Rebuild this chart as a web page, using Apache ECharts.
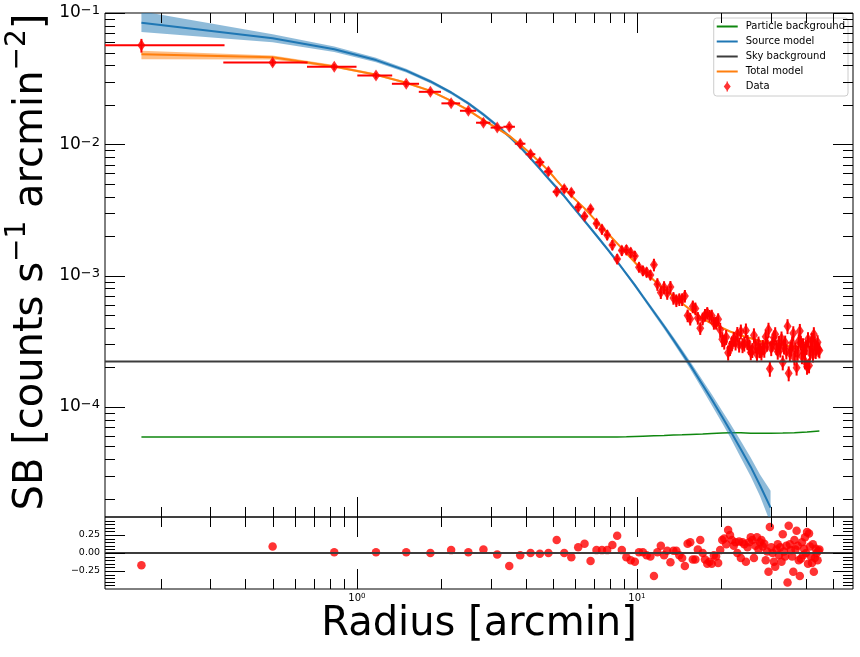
<!DOCTYPE html>
<html>
<head>
<meta charset="utf-8">
<title>Surface brightness profile</title>
<script src="https://cdn.jsdelivr.net/npm/echarts@6.0.0/dist/echarts.min.js"></script>
<style>
html,body{margin:0;padding:0;background:#ffffff;}
#chart{width:860px;height:657px;}
</style>
</head>
<body>
<div id="chart"></div>
<script>
// ---------------- data ----------------
const radius = [
  0.17, 0.50, 0.83, 1.17, 1.50, 1.83, 2.17, 2.50, 2.83, 3.17,
  3.50, 3.83, 4.17, 4.50, 4.83, 5.17, 5.50, 5.83, 6.17, 6.50,
  6.83, 7.17, 7.50, 7.83, 8.17, 8.50, 8.83, 9.17, 9.50, 9.83,
  10.17, 10.50, 10.83, 11.17, 11.50, 11.83, 12.17, 12.50, 12.83, 13.17,
  13.50, 13.83, 14.17, 14.50, 14.83, 15.17, 15.50, 15.83, 16.17, 16.50,
  16.83, 17.17, 17.50, 17.83, 18.17, 18.50, 18.83, 19.17, 19.50, 19.83,
  20.17, 20.50, 20.83, 21.17, 21.50, 21.83, 22.17, 22.50, 22.83, 23.17,
  23.50, 23.83, 24.17, 24.50, 24.83, 25.17, 25.50, 25.83, 26.17, 26.50,
  26.83, 27.17, 27.50, 27.83, 28.17, 28.50, 28.83, 29.17, 29.50, 29.83,
  30.17, 30.50, 30.83, 31.17, 31.50, 31.83, 32.17, 32.50, 32.83, 33.17,
  33.50, 33.83, 34.17, 34.50, 34.83, 35.17, 35.50, 35.83, 36.17, 36.50,
  36.83, 37.17, 37.50, 37.83, 38.17, 38.50, 38.83, 39.17, 39.50, 39.83,
  40.17, 40.50, 40.83, 41.17, 41.50, 41.83, 42.17, 42.50, 42.83, 43.17,
  43.50, 43.83, 44.17, 44.50, 44.83
];
const radiusHalfWidth = 0.1667;
const surfaceBrightness = [
  0.0567, 0.0419, 0.0389, 0.0334, 0.0289, 0.0251, 0.0205, 0.0180, 0.0146, 0.0134,
  0.0136, 0.0101, 0.0084, 0.0073, 0.0062, 0.00435, 0.00457, 0.0043, 0.00332, 0.00283,
  0.00321, 0.00249, 0.00225, 0.00204, 0.00171, 0.00134, 0.00155, 0.00157, 0.0015, 0.00141,
  0.00116, 0.00109, 0.00106, 0.00101, 0.00121, 0.00086, 0.000745, 0.000816, 0.000735, 0.000819,
  0.000674, 0.000647, 0.000659, 0.000659, 0.0007, 0.000496, 0.000468, 0.000581, 0.000561, 0.000475,
  0.000397, 0.00047, 0.000501, 0.000518, 0.000493, 0.000495, 0.000435, 0.000436, 0.000465, 0.000387,
  0.000328, 0.000314, 0.000341, 0.000259, 0.000281, 0.000304, 0.00033, 0.000309, 0.000359, 0.000298,
  0.000375, 0.000295, 0.000303, 0.000382, 0.000312, 0.000286, 0.00026, 0.000271, 0.000351, 0.000293,
  0.000252, 0.000304, 0.00027, 0.000259, 0.000286, 0.000272, 0.000342, 0.000303, 0.000387, 0.000195,
  0.00028, 0.000303, 0.000338, 0.000358, 0.000285, 0.000263, 0.000307, 0.000273, 0.000332, 0.000218,
  0.000288, 0.000309, 0.000264, 0.000412, 0.00018, 0.000256, 0.000278, 0.000305, 0.000364, 0.000237,
  0.000274, 0.000199, 0.000258, 0.000316, 0.000379, 0.000309, 0.000243, 0.000295, 0.000268, 0.000222,
  0.000285, 0.000202, 0.000328, 0.000207, 0.000258, 0.000298, 0.000324, 0.00025, 0.000358, 0.000303,
  0.000266, 0.000283, 0.000311, 0.000275, 0.000269
];
const surfaceBrightnessErrFrac = [
  0.12, 0.06, 0.05, 0.05, 0.05, 0.05, 0.05, 0.05, 0.05, 0.05,
  0.05, 0.07, 0.07, 0.07, 0.07, 0.07, 0.07, 0.07, 0.07, 0.07,
  0.07, 0.09, 0.09, 0.09, 0.09, 0.09, 0.09, 0.09, 0.09, 0.09,
  0.09, 0.09, 0.09, 0.09, 0.11, 0.11, 0.11, 0.11, 0.11, 0.11,
  0.11, 0.11, 0.11, 0.11, 0.11, 0.11, 0.11, 0.11, 0.11, 0.11,
  0.11, 0.11, 0.11, 0.11, 0.11, 0.11, 0.11, 0.11, 0.11, 0.13,
  0.13, 0.13, 0.13, 0.13, 0.13, 0.13, 0.13, 0.13, 0.13, 0.13,
  0.13, 0.13, 0.13, 0.13, 0.13, 0.13, 0.13, 0.13, 0.13, 0.13,
  0.13, 0.13, 0.13, 0.13, 0.13, 0.13, 0.13, 0.13, 0.13, 0.13,
  0.13, 0.13, 0.13, 0.13, 0.13, 0.13, 0.13, 0.13, 0.13, 0.13,
  0.13, 0.13, 0.13, 0.13, 0.13, 0.13, 0.13, 0.13, 0.13, 0.13,
  0.13, 0.13, 0.13, 0.13, 0.13, 0.13, 0.13, 0.13, 0.13, 0.13,
  0.13, 0.13, 0.13, 0.13, 0.13, 0.13, 0.13, 0.13, 0.13, 0.13,
  0.13, 0.13, 0.13, 0.13, 0.13
];
const residuals = [
  -0.17, 0.09, 0.01, 0.01, 0.01, 0.0, 0.04, 0.01, 0.05, -0.02,
  -0.18, -0.03, 0.0, -0.01, 0.0, 0.18, 0.0, -0.06, 0.08, 0.13,
  -0.11, 0.04, 0.04, 0.04, 0.11, 0.24, 0.04, -0.06, -0.10, -0.12,
  0.01, 0.01, -0.03, -0.05, -0.32, 0.01, 0.10, -0.03, 0.03, -0.13,
  0.03, 0.03, -0.03, -0.07, -0.18, 0.13, 0.15, -0.09, -0.09, 0.05,
  0.18, 0.0, -0.09, -0.15, -0.12, -0.15, -0.03, -0.05, -0.14, 0.04,
  0.18, 0.20, 0.12, 0.32, 0.25, 0.18, 0.10, 0.15, 0.0, 0.16,
  -0.07, 0.15, 0.12, -0.12, 0.08, 0.15, 0.22, 0.18, -0.07, 0.10,
  0.22, 0.05, 0.15, 0.18, 0.09, 0.13, -0.10, 0.02, -0.26, 0.36,
  0.08, 0.0, -0.12, -0.19, 0.05, 0.12, -0.03, 0.08, -0.12, 0.26,
  0.02, -0.05, 0.10, -0.41, 0.38, 0.12, 0.04, -0.05, -0.26, 0.18,
  0.05, 0.31, 0.10, -0.10, -0.32, -0.08, 0.15, -0.03, 0.06, 0.22,
  0.0, 0.29, -0.15, 0.27, 0.09, -0.05, -0.14, 0.12, -0.26, -0.07,
  0.06, 0.0, -0.10, 0.03, 0.05
];

const modelRadius = [
  0.17, 0.5, 0.83, 1.17, 1.5, 1.83, 2.17, 2.5, 2.83, 3.17,
  3.5, 3.83, 4.17, 4.5, 4.83, 5.17, 5.5, 5.83, 6.17, 6.5,
  7.17, 7.83, 8.5, 9.17, 9.83, 10.5, 11.5, 12.5, 13.5, 14.5,
  15.5, 17.17, 18.5, 20.17, 21.5, 23.5, 25.5, 27.5, 30, 33.17,
  36.5, 40.5, 44.83
];
const totalModel = [
  0.0485, 0.046, 0.0392, 0.0339, 0.0294, 0.0255, 0.0214, 0.0182, 0.0153, 0.0132,
  0.0116, 0.0099, 0.0085, 0.0073, 0.0063, 0.0053, 0.00458, 0.00406, 0.00361, 0.00325,
  0.00259, 0.00212, 0.00176, 0.00148, 0.00126, 0.0011, 0.00092, 0.000792, 0.000695, 0.000616,
  0.00055, 0.00047, 0.00043, 0.0004, 0.000375, 0.00035, 0.000333, 0.000318, 0.000305, 0.000295,
  0.000289, 0.000285, 0.000283
];
const totalModelLo = [
  0.0444, 0.0443, 0.0382, 0.0332, 0.0288, 0.0250, 0.0210, 0.0178, 0.0150, 0.01294,
  0.01137, 0.0097, 0.00837, 0.00719, 0.0062, 0.00522, 0.00451, 0.004, 0.00356, 0.0032,
  0.00255, 0.00209, 0.00173, 0.00146, 0.00124, 0.00108, 0.000906, 0.00078, 0.000685, 0.000607,
  0.000542, 0.000463, 0.000424, 0.000394, 0.00037, 0.000345, 0.000328, 0.000313, 0.0003, 0.00029,
  0.000284, 0.00028, 0.000278
];
const totalModelHi = [
  0.0516, 0.0475, 0.0402, 0.0346, 0.0300, 0.0260, 0.0218, 0.0186, 0.0156, 0.01346,
  0.01183, 0.0101, 0.00863, 0.00741, 0.0064, 0.00538, 0.00465, 0.00412, 0.00366, 0.0033,
  0.00263, 0.00215, 0.00179, 0.0015, 0.00128, 0.00112, 0.000934, 0.000804, 0.000705, 0.000625,
  0.000558, 0.000477, 0.000436, 0.000406, 0.00038, 0.000355, 0.000338, 0.000323, 0.00031, 0.0003,
  0.000294, 0.00029, 0.000288
];
const sourceModel = [
  0.0844, 0.0641, 0.053, 0.0438, 0.0364, 0.0301, 0.0248, 0.0205, 0.01687, 0.01383,
  0.01145, 0.00953, 0.00782, 0.00652, 0.00548, 0.00467, 0.00403, 0.00346, 0.00299, 0.00261,
  0.00202, 0.0016, 0.00128, 0.00103, 0.000845, 0.000693, 0.000528, 0.000411, 0.000324, 0.000258,
  0.000208, 0.000147, 0.000114, 0.0000836, 0.0000664, 0.0000476, 0.0000349, 0.0000253, 0.0000171
];
const sourceModelLo = [
  0.0716, 0.060, 0.0505, 0.0422, 0.0353, 0.0292, 0.0241, 0.0199, 0.01637, 0.0134,
  0.0111, 0.00925, 0.00759, 0.00632, 0.00532, 0.00453, 0.00391, 0.00336, 0.0029, 0.00253,
  0.00196, 0.00155, 0.00124, 0.001, 0.000815, 0.000668, 0.000506, 0.000392, 0.000307, 0.000243,
  0.000194, 0.000135, 0.000103, 0.000075, 0.000059, 0.000041, 0.0000295, 0.000021, 0.000013
];
const sourceModelHi = [
  0.103, 0.069, 0.0555, 0.0456, 0.0376, 0.031, 0.0255, 0.0211, 0.01737, 0.01426,
  0.0118, 0.00982, 0.00806, 0.00672, 0.00564, 0.00481, 0.00415, 0.00356, 0.00308, 0.00269,
  0.00208, 0.00165, 0.00132, 0.00106, 0.000875, 0.000718, 0.00055, 0.00043, 0.000341, 0.000273,
  0.000222, 0.000159, 0.000125, 0.000093, 0.000075, 0.000055, 0.000041, 0.0000305, 0.000023
];
const particleBackground = [
  5.9e-5, 5.9e-5, 5.9e-5, 5.9e-5, 5.9e-5, 5.9e-5, 5.9e-5, 5.9e-5, 5.9e-5, 5.9e-5,
  5.9e-5, 5.9e-5, 5.9e-5, 5.9e-5, 5.9e-5, 5.9e-5, 5.9e-5, 5.9e-5, 5.9e-5, 5.9e-5,
  5.9e-5, 5.9e-5, 5.9e-5, 5.92e-5, 5.95e-5, 5.98e-5, 6.02e-5, 6.05e-5, 6.1e-5, 6.13e-5,
  6.17e-5, 6.22e-5, 6.27e-5, 6.32e-5, 6.35e-5, 6.35e-5, 6.3e-5, 6.3e-5, 6.3e-5, 6.32e-5,
  6.36e-5, 6.45e-5, 6.55e-5
];
const skyBackground = 2.22e-4;

// axis ranges and ticks
const xRange = [0.126, 59.1];
const yRange = [1.45e-5, 0.1];
const resRange = [-0.5, 0.5];
const xMajorTicks = [1, 10];
const xMinorTicks = [0.2, 0.3, 0.4, 0.5, 0.6, 0.7, 0.8, 0.9, 2, 3, 4, 5, 6, 7, 8, 9, 20, 30, 40, 50];
const yMajorTicks = [1e-4, 1e-3, 1e-2, 1e-1];
const yMinorTicks = [2e-5, 3e-5, 4e-5, 5e-5, 6e-5, 7e-5, 8e-5, 9e-5,
  2e-4, 3e-4, 4e-4, 5e-4, 6e-4, 7e-4, 8e-4, 9e-4,
  2e-3, 3e-3, 4e-3, 5e-3, 6e-3, 7e-3, 8e-3, 9e-3,
  2e-2, 3e-2, 4e-2, 5e-2, 6e-2, 7e-2, 8e-2, 9e-2];
const resMajorTicks = [-0.25, 0, 0.25];
const resMinorTicks = [-0.45, -0.4, -0.35, -0.3, -0.2, -0.15, -0.1, -0.05, 0.05, 0.1, 0.15, 0.2, 0.3, 0.35, 0.4, 0.45];

// ---------------- styling ----------------
const FONT = 'DejaVu Sans';
const C_BLUE = '#1f77b4', C_ORANGE = '#ff7f0e', C_GREEN = '#0f870f', C_SKY = '#3c3c3c', C_RED = '#ff0000';
const MAJOR_LEN = 20, MINOR_LEN = 10;

const pairs = (xs, ys) => ys.map((y, i) => [xs[i], y]);
const minus = s => String(s).replace('-', '\u2212');

function powerLabel(v) {
  const e = Math.log10(v), n = Math.round(e);
  if (Math.abs(e - n) > 1e-6) return '';
  return '{b|10}{s|' + minus(n) + '}';
}

function gridClip(cs) {
  return { type: 'rect', shape: { x: cs.x, y: cs.y, width: cs.width, height: cs.height } };
}

function xTickSeries(idx, values, len, yRef) {
  return {
    type: 'custom', coordinateSystem: 'cartesian2d', xAxisIndex: idx, yAxisIndex: idx,
    silent: true, z: 20, animation: false, clip: false,
    data: values.map(v => [v, yRef]),
    encode: { x: 0, y: 1 },
    renderItem: (params, api) => {
      const p = api.coord([api.value(0), api.value(1)]);
      const cs = params.coordSys;
      const x = Math.round(p[0]) + 0.5;
      const st = { stroke: '#000', lineWidth: 1 };
      return { type: 'group', children: [
        { type: 'line', shape: { x1: x, y1: cs.y, x2: x, y2: cs.y + len }, style: st },
        { type: 'line', shape: { x1: x, y1: cs.y + cs.height, x2: x, y2: cs.y + cs.height - len }, style: st }
      ]};
    }
  };
}
function yTickSeries(idx, values, len, xRef) {
  return {
    type: 'custom', coordinateSystem: 'cartesian2d', xAxisIndex: idx, yAxisIndex: idx,
    silent: true, z: 20, animation: false, clip: false,
    data: values.map(v => [xRef, v]),
    encode: { x: 0, y: 1 },
    renderItem: (params, api) => {
      const p = api.coord([api.value(0), api.value(1)]);
      const cs = params.coordSys;
      const y = Math.round(p[1]) + 0.5;
      const st = { stroke: '#000', lineWidth: 1 };
      return { type: 'group', children: [
        { type: 'line', shape: { x1: cs.x, y1: y, x2: cs.x + len, y2: y }, style: st },
        { type: 'line', shape: { x1: cs.x + cs.width, y1: y, x2: cs.x + cs.width - len, y2: y }, style: st }
      ]};
    }
  };
}
function bandSeries(name, xs, lo, hi, color, z) {
  return {
    type: 'custom', name: name, coordinateSystem: 'cartesian2d', xAxisIndex: 0, yAxisIndex: 0,
    silent: true, z: z, animation: false, clip: true,
    data: [[xs[0], lo[0]]],
    encode: { x: 0, y: 1 },
    renderItem: (params, api) => {
      const pts = [];
      for (let i = 0; i < lo.length; i++) pts.push(api.coord([xs[i], hi[i]]));
      for (let i = lo.length - 1; i >= 0; i--) pts.push(api.coord([xs[i], lo[i]]));
      return { type: 'polygon', shape: { points: pts }, style: { fill: color, opacity: 0.5 },
               clipPath: gridClip(params.coordSys) };
    }
  };
}
// horizontal line across the whole plot at a data level (like axhline)
function hLineSeries(name, gridIdx, level, xRef, color, z) {
  return {
    type: 'custom', name: name, coordinateSystem: 'cartesian2d', xAxisIndex: gridIdx, yAxisIndex: gridIdx,
    silent: true, z: z, animation: false, clip: false, color: color, itemStyle: { color: color },
    data: [[xRef, level]],
    encode: { x: 0, y: 1 },
    renderItem: (params, api) => {
      const p = api.coord([api.value(0), api.value(1)]);
      const cs = params.coordSys;
      return { type: 'line', shape: { x1: cs.x, y1: p[1], x2: cs.x + cs.width, y2: p[1] },
               style: { stroke: color, lineWidth: 2 } };
    }
  };
}

const lineIcon = 'path://M0,0M21,10M0,4L21,4L21,6L0,6Z';
const dataIcon = 'path://M0,0M21,10M10.5,0.4L14,5L10.5,9.6L7,5Z M9.8,0L11.2,0L11.2,10L9.8,10Z';

const chart = echarts.init(document.getElementById('chart'), null, { renderer: 'canvas', width: 860, height: 657 });

const logLabelRich = {
  b: { fontFamily: FONT, fontSize: 17, lineHeight: 17, padding: [7, 0, 0, 0], verticalAlign: 'bottom', color: '#000' },
  s: { fontFamily: FONT, fontSize: 13, lineHeight: 15, verticalAlign: 'top', color: '#000' }
};
const xLabelRich = {
  b: { fontFamily: FONT, fontSize: 10, lineHeight: 10, padding: [3, 0, 0, 0], verticalAlign: 'bottom', color: '#000' },
  s: { fontFamily: FONT, fontSize: 7, lineHeight: 8, verticalAlign: 'top', color: '#000' }
};

const option = {
  backgroundColor: '#ffffff',
  animation: false,
  textStyle: { fontFamily: FONT },
  grid: [
    { left: 105, right: 7, top: 13, height: 504, show: true, borderColor: '#000', borderWidth: 1, backgroundColor: 'transparent', containLabel: false, outerBoundsMode: 'none' },
    { left: 105, right: 7, top: 517, height: 72, show: true, borderColor: '#000', borderWidth: 1, backgroundColor: 'transparent', containLabel: false, outerBoundsMode: 'none' }
  ],
  xAxis: [
    { type: 'log', logBase: 10, gridIndex: 0, min: xRange[0], max: xRange[1],
      axisLine: { show: false }, axisTick: { show: false }, splitLine: { show: false },
      axisLabel: { show: false } },
    { type: 'log', logBase: 10, gridIndex: 1, min: xRange[0], max: xRange[1],
      axisLine: { show: false }, axisTick: { show: false }, splitLine: { show: false },
      axisLabel: { show: true, margin: 4, formatter: powerLabel, rich: xLabelRich, hideOverlap: false } }
  ],
  yAxis: [
    { type: 'log', logBase: 10, gridIndex: 0, min: yRange[0], max: yRange[1],
      axisLine: { show: false }, axisTick: { show: false }, splitLine: { show: false },
      axisLabel: { show: true, margin: 5, formatter: powerLabel, rich: logLabelRich, hideOverlap: false } },
    { type: 'value', gridIndex: 1, min: resRange[0], max: resRange[1], interval: 0.25,
      axisLine: { show: false }, axisTick: { show: false }, splitLine: { show: false },
      axisLabel: { show: true, margin: 5, fontFamily: FONT, fontSize: 9.5, color: '#000', hideOverlap: false,
        formatter: v => (Math.abs(Math.abs(v) - 0.5) < 1e-9 ? '' : minus(v.toFixed(2))) } }
  ],
  graphic: [
    { type: 'text', x: 479, y: 625, silent: true, z: 50,
      style: { text: 'Radius [arcmin]', fontFamily: FONT, fontSize: 40, fill: '#000', align: 'center', verticalAlign: 'middle' } },
    { type: 'text', x: 28, y: 262, rotation: Math.PI / 2, silent: true, z: 50,
      style: { text: '{b|SB [counts s}{s|\u22121}{b| arcmin}{s|\u22122}{b|]}', align: 'center', verticalAlign: 'middle', fill: '#000',
        rich: {
          b: { fontFamily: FONT, fontSize: 40, lineHeight: 48, verticalAlign: 'bottom', fill: '#000' },
          s: { fontFamily: FONT, fontSize: 28, lineHeight: 26, verticalAlign: 'top', fill: '#000' }
        } } }
  ],
  legend: {
    orient: 'vertical', right: 12, top: 18, selectedMode: false,
    itemWidth: 21, itemHeight: 10, itemGap: 4,
    padding: [3, 3, 4, 3],
    backgroundColor: 'rgba(255,255,255,0.85)', borderColor: '#cccccc', borderWidth: 1, borderRadius: 3,
    itemStyle: { borderWidth: 0 },
    textStyle: { fontFamily: FONT, fontSize: 10, lineHeight: 11, color: '#000', padding: [0, 0, 0, 3] },
    data: [
      { name: 'Particle background', icon: lineIcon },
      { name: 'Source model', icon: lineIcon },
      { name: 'Sky background', icon: lineIcon, itemStyle: { color: C_SKY } },
      { name: 'Total model', icon: lineIcon },
      { name: 'Data', icon: dataIcon }
    ]
  },
  series: [
    { type: 'line', name: 'Particle background', xAxisIndex: 0, yAxisIndex: 0, z: 3,
      data: pairs(modelRadius, particleBackground), color: C_GREEN,
      showSymbol: false, symbol: 'none', lineStyle: { color: C_GREEN, width: 1.5 }, clip: true },
    bandSeries('Source model band', modelRadius, sourceModelLo, sourceModelHi, C_BLUE, 4),
    { type: 'line', name: 'Source model', xAxisIndex: 0, yAxisIndex: 0, z: 5,
      data: pairs(modelRadius, sourceModel), color: C_BLUE,
      showSymbol: false, symbol: 'none', lineStyle: { color: C_BLUE, width: 2 }, clip: true },
    bandSeries('Total model band', modelRadius, totalModelLo, totalModelHi, C_ORANGE, 6),
    { type: 'line', name: 'Total model', xAxisIndex: 0, yAxisIndex: 0, z: 7,
      data: pairs(modelRadius, totalModel), color: C_ORANGE,
      showSymbol: false, symbol: 'none', lineStyle: { color: C_ORANGE, width: 2 }, clip: true },
    { type: 'custom', name: 'Data error bars', coordinateSystem: 'cartesian2d', xAxisIndex: 0, yAxisIndex: 0,
      silent: true, z: 8, clip: true, animation: false,
      data: radius.map((r, i) => [r, surfaceBrightness[i], surfaceBrightnessErrFrac[i]]),
      encode: { x: 0, y: 1 },
      renderItem: (params, api) => {
        const r = api.value(0), y = api.value(1), e = api.value(2);
        const xl = Math.max(r - radiusHalfWidth, xRange[0]);
        const a = api.coord([xl, y]), b = api.coord([r + radiusHalfWidth, y]);
        const c = api.coord([r, y * (1 - e)]), d = api.coord([r, y * (1 + e)]);
        const st = { stroke: C_RED, lineWidth: 2 };
        return { type: 'group', children: [
          { type: 'line', shape: { x1: a[0], y1: a[1], x2: b[0], y2: b[1] }, style: st },
          { type: 'line', shape: { x1: c[0], y1: c[1], x2: d[0], y2: d[1] }, style: st }
        ]};
      } },
    { type: 'scatter', name: 'Data', xAxisIndex: 0, yAxisIndex: 0, z: 9,
      data: pairs(radius, surfaceBrightness), color: C_RED,
      symbol: 'diamond', symbolSize: [8, 12], itemStyle: { color: C_RED }, clip: true },
    hLineSeries('Sky background', 0, skyBackground, 1, C_SKY, 10),
    { type: 'scatter', name: 'Residuals', xAxisIndex: 1, yAxisIndex: 1, z: 9,
      data: pairs(radius, residuals), symbol: 'circle', symbolSize: 8.5,
      itemStyle: { color: C_RED }, clip: true },
    hLineSeries('Zero', 1, 0, 1, C_SKY, 10),
    xTickSeries(0, xMajorTicks, MAJOR_LEN, 1e-3),
    xTickSeries(0, xMinorTicks, MINOR_LEN, 1e-3),
    yTickSeries(0, yMajorTicks, MAJOR_LEN, 1),
    yTickSeries(0, yMinorTicks, MINOR_LEN, 1),
    xTickSeries(1, xMajorTicks, MAJOR_LEN, 0),
    xTickSeries(1, xMinorTicks, MINOR_LEN, 0),
    yTickSeries(1, resMajorTicks, MAJOR_LEN, 1),
    yTickSeries(1, resMinorTicks, MINOR_LEN, 1)
  ]
};
chart.setOption(option);
</script>
</body>
</html>
